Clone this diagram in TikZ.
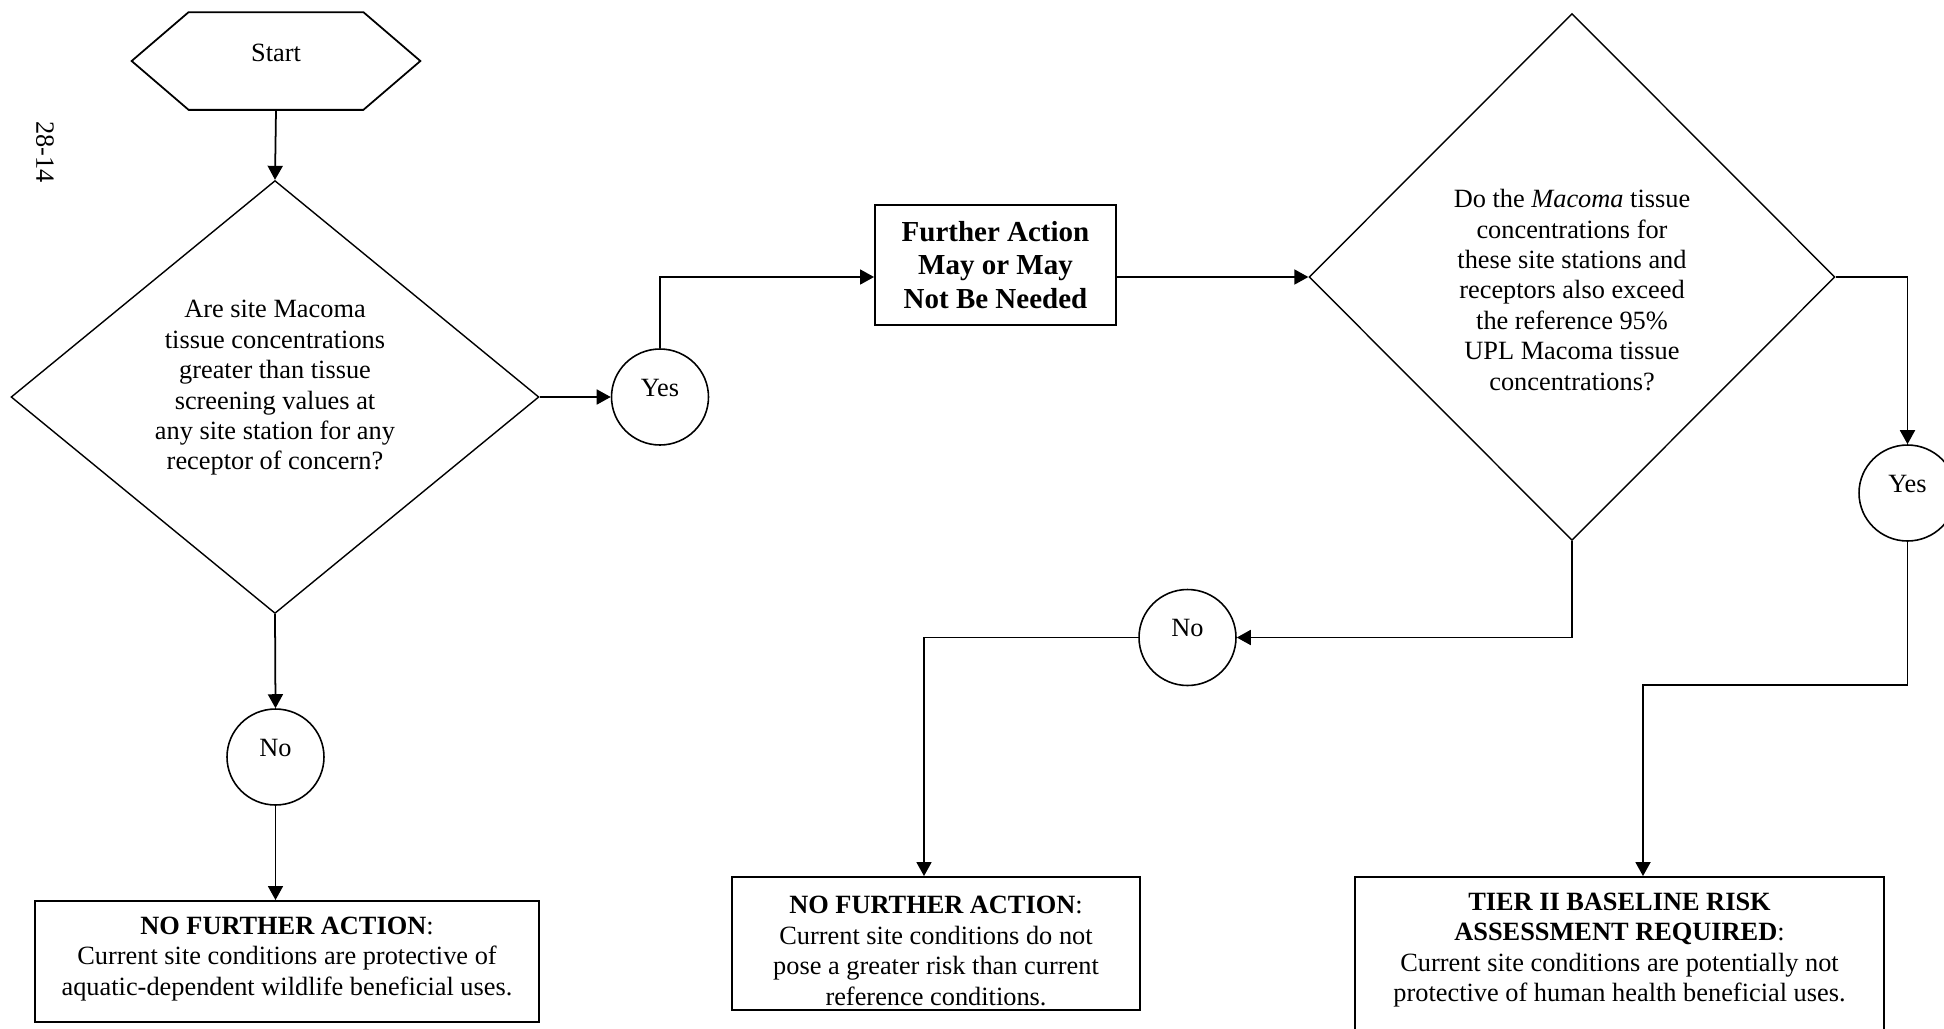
\documentclass[tikz,border=0pt]{standalone}
\usepackage{fontspec}
\setmainfont{Liberation Serif}
\usetikzlibrary{shapes.geometric,arrows.meta,calc}
\begin{document}
\begin{tikzpicture}[x=0.02cm,y=-0.02cm,
  line width=1pt,
  every node/.style={font=\fontsize{15}{17.3}\selectfont, inner sep=0pt},
  arr/.style={-{Triangle[length=0.28cm,width=0.3cm]}},
  boxnode/.style={draw, rectangle, line width=1.1pt},
  dia/.style={draw, diamond, inner sep=0pt, line width=0.8pt},
  circ/.style={draw, ellipse, line width=0.9pt, minimum width=1.94cm, minimum height=1.92cm, text height=10pt, text depth=11pt},
  txt/.style={align=center}
]
\useasboundingbox (0,0) rectangle (1944,1028);
\clip (0,0) rectangle (1944,1028);

% page number
\node[rotate=-90] (pg) at (45,152) {28-14};

% start hexagon
\node[minimum width=3.46cm, minimum height=1.92cm, text height=10pt, text depth=9pt] (start) at (276,61) {Start};
\draw (start.north west) -- (start.north east) -- ($(start.east)+(57,0)$) -- (start.south east) -- (start.south west) -- ($(start.west)+(-57,0)$) -- cycle;

% first decision
\node[dia, minimum width=10.56cm, minimum height=8.66cm] (d1) at (275,397) {};
\node[txt] (d1t) at (275,388) {Are site Macoma\\tissue concentrations\\greater than tissue\\screening values at\\any site station for any\\receptor of concern?};

\node[circ] (yes1) at (660,397) {Yes};
\node[circ] (no1) at (275.5,757) {No};

\node[boxnode, minimum width=10.08cm, minimum height=2.42cm] (b1) at (287,961.5) {};
\node[txt] (b1t) at (287,959) {\textbf{NO FURTHER ACTION}:\\Current site conditions are protective of\\aquatic-dependent wildlife beneficial uses.};

\node[boxnode, minimum width=4.82cm, minimum height=2.4cm, font=\bfseries\fontsize{16.5}{19}\selectfont, align=center] (fa) at (995.5,265) {Further Action\\May or May\\Not Be Needed};

% second decision
\node[dia, minimum width=10.52cm, minimum height=10.54cm] (d2) at (1572,277) {};
\node[txt] (d2t) at (1572,290) {Do the \textit{Macoma} tissue\\concentrations for\\these site stations and\\receptors also exceed\\the reference 95\%\\UPL Macoma tissue\\concentrations?};

\node[circ] (no2) at (1187.5,637.5) {No};
\node[circ] (yes2) at (1907.5,493) {Yes};

\node[boxnode, minimum width=8.16cm, minimum height=2.66cm] (b2) at (936,943.5) {};
\node[txt] (b2t) at (936,951) {\textbf{NO FURTHER ACTION}:\\Current site conditions do not\\pose a greater risk than current\\reference conditions.};

\node[boxnode, minimum width=10.58cm, minimum height=3.6cm] (b3) at (1619.5,967) {};
\node[txt] (b3t) at (1619.5,950) {\textbf{TIER II BASELINE RISK}\\\textbf{ASSESSMENT REQUIRED}:\\Current site conditions are potentially not\\protective of human health beneficial uses.};

% connectors
\draw[arr] (start.south) -- (d1.north);
\draw[arr] (d1.south) -- (no1.north);
\draw[arr] (no1.south) -- (no1.south |- b1.north);
\draw[arr] (d1.east) -- (yes1.west);
\draw[arr] (yes1.north) |- (fa.west |- d2.west);
\draw[arr] (fa.east |- d2.west) -- (d2.west);
\draw[arr] (d2.east) -| (yes2.north);
\draw[arr] (d2.south) |- (no2.east);
\draw[arr] (no2.west) -| ($(b2.north)+(-12,0)$);
\coordinate (bend3) at (1643,685);
\draw[arr] (yes2.south) |- (bend3) -- (bend3 |- b3.north);
\end{tikzpicture}
\end{document}
